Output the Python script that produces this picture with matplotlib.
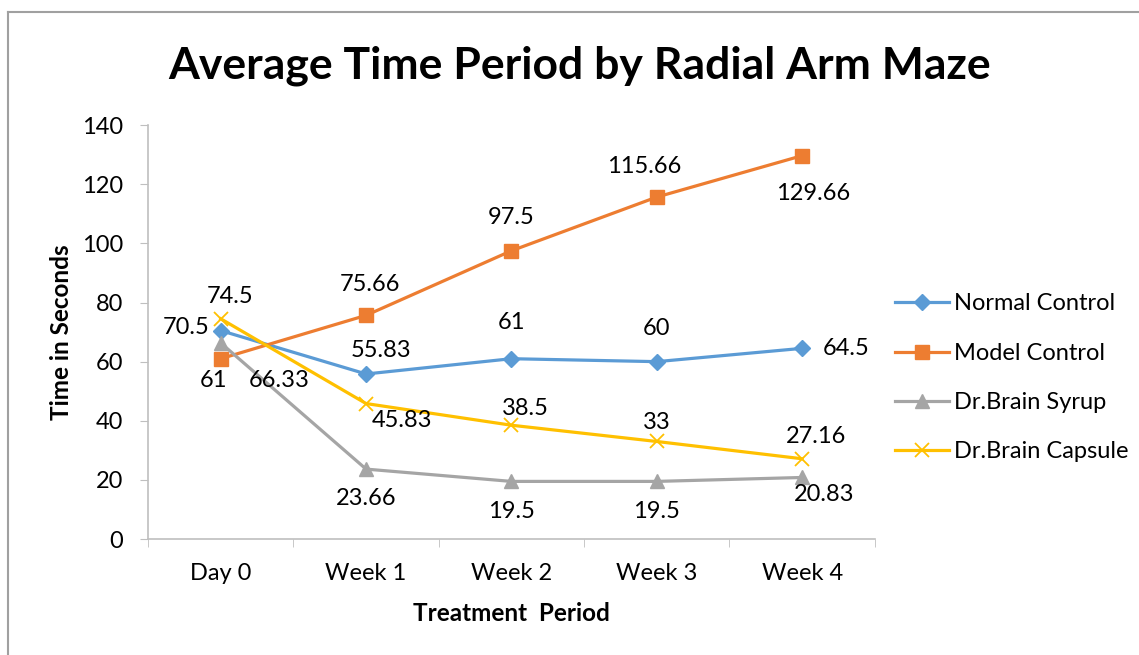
import numpy as np
import matplotlib.pyplot as plt
from matplotlib.lines import Line2D

plt.rcParams['font.family'] = ['Lato', 'DejaVu Sans']

periods = ['Day 0', 'Week 1', 'Week 2', 'Week 3', 'Week 4']
normal_control = [70.5, 55.83, 61, 60, 64.5]
model_control = [61, 75.66, 97.5, 115.66, 129.66]
brain_syrup = [66.33, 23.66, 19.5, 19.5, 20.83]
brain_capsule = [74.5, 45.83, 38.5, 33, 27.16]
label_text = {
    'normal': ['70.5', '55.83', '61', '60', '64.5'],
    'model': ['61', '75.66', '97.5', '115.66', '129.66'],
    'syrup': ['66.33', '23.66', '19.5', '19.5', '20.83'],
    'capsule': ['74.5', '45.83', '38.5', '33', '27.16'],
}

fig = plt.figure(figsize=(11.39, 6.55), dpi=100)
ax = fig.add_axes([0.130, 0.177, 0.638, 0.632])

x = np.arange(len(periods))
series = [
    ('normal', 'Normal Control', normal_control, '#5B9BD5', 'D', 8),
    ('model', 'Model Control', model_control, '#ED7D31', 's', 10),
    ('syrup', 'Dr.Brain Syrup', brain_syrup, '#A5A5A5', '^', 10),
    ('capsule', 'Dr.Brain Capsule', brain_capsule, '#FFC000', 'x', 10),
]

# label offsets in points (dx, dy) per series/point
offsets = {
    'normal': [(-25, 2), (11, 17), (0, 26), (0, 24), (32, 0)],
    'model': [(-5, -16), (3, 22), (0, 24), (-9, 22), (8, -27)],
    'syrup': [(42, -27), (0, -21), (0, -22), (0, -22), (16, -12)],
    'capsule': [(7, 16), (26, -12), (10, 12), (0, 14), (10, 16)],
}

handles = []
for key, name, vals, col, mk, ms in series:
    mew = 1.3 if mk == 'x' else 1
    ax.plot(x, vals, color=col, lw=2.3, marker=mk, ms=ms, mew=mew,
            mec=col, mfc=col, zorder=3)
    handles.append(Line2D([], [], color=col, lw=2.3, marker=mk, ms=ms,
                          mew=mew, mec=col, mfc=col))
    for i, v in enumerate(vals):
        dx, dy = offsets[key][i]
        ax.annotate(label_text[key][i], (x[i], v), xytext=(dx, dy),
                    textcoords='offset points', ha='center', va='center',
                    fontsize=17, color='black', zorder=4)

ax.set_xlim(-0.5, 4.5)
ax.set_ylim(0, 140)
ax.set_yticks(np.arange(0, 141, 20))
ax.set_xticks(x)
ax.set_xticklabels(periods)
ax.set_xticks(np.arange(-0.5, 4.6, 1), minor=True)
ax.tick_params(axis='x', which='major', length=0, pad=17, labelsize=17)
ax.tick_params(axis='x', which='minor', length=6, color='#BFBFBF', direction='out')
ax.tick_params(axis='y', length=6, color='#BFBFBF', labelsize=17, pad=12)

for s in ['top', 'right']:
    ax.spines[s].set_visible(False)
for s in ['left', 'bottom']:
    ax.spines[s].set_color('#BFBFBF')
    ax.spines[s].set_linewidth(1.2)

ax.set_xlabel('Treatment  Period', fontsize=17.5, fontweight='bold')
ax.set_ylabel('Time in Seconds', fontsize=17.5, fontweight='bold')
ax.xaxis.set_label_coords(0.5, -0.152)
ax.yaxis.set_label_coords(-0.103, 0.5)

fig.text(0.509, 0.900, 'Average Time Period by Radial Arm Maze',
         ha='center', va='center', fontsize=32, fontweight='bold')

fig.legend(handles, [s[1] for s in series], loc='center left',
           bbox_to_anchor=(0.767, 0.423), frameon=False, fontsize=17,
           handlelength=2.3, labelspacing=1.2, handletextpad=0.2)

# outer chart border (left and top edges visible)
fig.add_artist(Line2D([0.007, 0.007], [0, 0.982], color='#A0A0A0', lw=1.5,
                      transform=fig.transFigure))
fig.add_artist(Line2D([0.007, 1.0], [0.982, 0.982], color='#A0A0A0', lw=1.5,
                      transform=fig.transFigure))

fig.savefig('out.png', dpi=100)
